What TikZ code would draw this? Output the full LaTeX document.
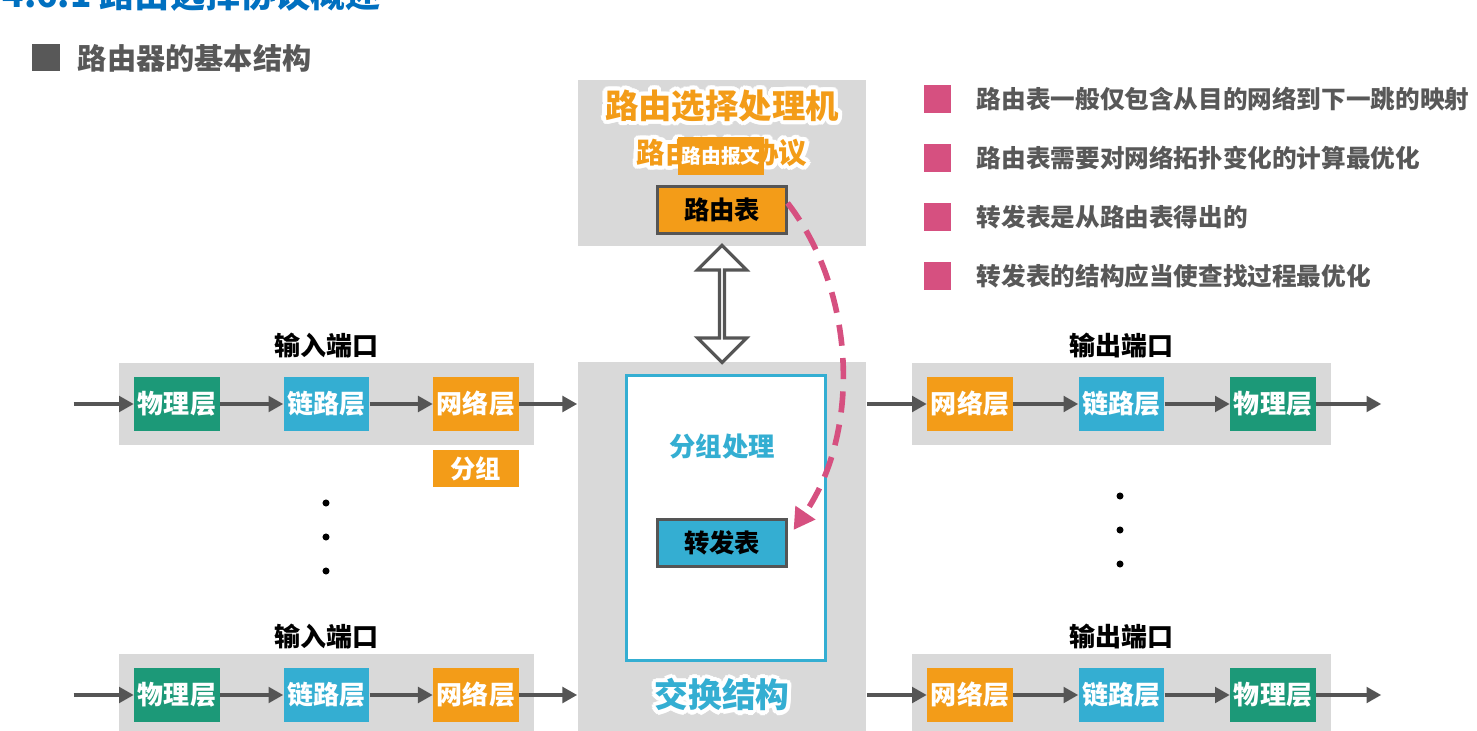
\documentclass[tikz,border=0pt]{standalone}
\usepackage{fontspec}
\setmainfont{Noto Sans CJK SC}
\usepackage{contour}
\contourlength{1.2pt}
\usetikzlibrary{positioning, shapes.arrows, arrows.meta, calc, fit, backgrounds}

\definecolor{boxgray}{RGB}{217,217,217}
\definecolor{phygreen}{RGB}{28,153,120}
\definecolor{linkblue}{RGB}{52,174,210}
\definecolor{netorange}{RGB}{243,156,24}
\definecolor{notepink}{RGB}{214,80,128}
\definecolor{arrowgray}{RGB}{85,85,85}
\definecolor{textgray}{RGB}{88,88,88}
\definecolor{titleblue}{RGB}{0,112,192}

\newcommand{\pxsize}[1]{\fontsize{#1}{#1}\selectfont}

\begin{document}
\begin{tikzpicture}[
  x=0.01cm, y=-0.01cm,
  font=\bfseries,
  node distance=0.63cm,
  layer/.style={
    minimum width=0.85cm, minimum height=0.54cm, inner sep=0pt,
    text=white, font=\bfseries\pxsize{7.4}
  },
  phy/.style={layer, fill=phygreen},
  link/.style={layer, fill=linkblue},
  net/.style={layer, fill=netorange},
  port/.style={fill=boxgray, inner xsep=0.15cm, inner ysep=0.135cm},
  portlabel/.style={inner sep=0pt, font=\bfseries\pxsize{7.4}},
  module/.style={fill=boxgray, minimum width=2.88cm, inner sep=0pt},
  tbl/.style={
    draw=arrowgray, line width=0.85pt, minimum width=1.28cm,
    minimum height=0.47cm, inner sep=0pt, font=\bfseries\pxsize{7.2}
  },
  flow/.style={-{Triangle[length=4.2pt, width=4.4pt]}, line width=1.1pt, draw=arrowgray},
  derive/.style={
    -{Triangle[length=6pt, width=6.5pt]}, draw=notepink,
    line width=1.6pt, dash pattern=on 6pt off 3.5pt
  },
  bullet/.style={fill=notepink, minimum size=0.27cm, inner sep=0pt},
  note/.style={inner sep=0pt, text=textgray, font=\bfseries\pxsize{7.0}},
]

\useasboundingbox (0,0) rectangle (1477,731);

% heading
\node[anchor=base west, inner sep=0pt, text=titleblue, font=\bfseries\pxsize{10}] (title) at (2,8) {4.6.1 路由选择协议概述};
\node[fill=textgray, minimum size=0.27cm, inner sep=0pt] (hsq) at (46,58) {};
\node[inner sep=0pt, text=textgray, font=\bfseries\pxsize{8.3}, right=0.17cm of hsq] (heading) {路由器的基本结构};

% routing processor
\node[module, minimum height=1.66cm] (proc) at (722,163) {};
\node[inner sep=0pt, text=netorange, font=\bfseries\pxsize{9.5}] (procname) at (722,108) {\contour{white}{路由选择处理机}};
\node[inner sep=0pt, text=netorange, font=\bfseries\pxsize{8.1}] (proto) at (722,155) {\contour{white}{路由选择协议}};
\node[fill=netorange, text=white, font=\bfseries\pxsize{5.6}, minimum width=0.86cm, minimum height=0.38cm, inner sep=0pt] (msg) at (721,156) {路由报文};
\node[tbl, fill=netorange] (rt) at (722,210) {路由表};

% switching fabric
\node[module, minimum height=3.74cm] (fabric) at (722,549) {};
\node[draw=linkblue, line width=0.85pt, fill=white, minimum width=1.99cm, minimum height=2.85cm, inner sep=0pt] (pp) at (726,518) {};
\node[inner sep=0pt, text=linkblue, font=\bfseries\pxsize{7.5}] (ppname) at (722,449) {\contour{white}{分组处理}};
\node[tbl, fill=linkblue] (ft) at (722,543) {转发表};
\node[inner sep=0pt, text=linkblue, font=\bfseries\pxsize{9.6}] (fabname) at (722,697) {\contour{white}{交换结构}};

\node[double arrow, draw=arrowgray, fill=white, line width=0.9pt, shape border rotate=90,
  minimum height=1.17cm, minimum width=0.49cm, double arrow head extend=0.14cm,
  inner sep=0pt] (updown) at ($(proc.south)!0.5!(fabric.north)$) {};

\draw[derive] ([yshift=2]rt.east) .. controls (855,290) and (862,430) .. ([shift={(6,12)}]ft.north east);

% input ports
\node[phy] (inphyA) at (177,404) {物理层};
\node[link, right=of inphyA] (inlinkA) {链路层};
\node[net, right=of inlinkA] (innetA) {网络层};
\node[net, below=0.18cm of innetA, minimum height=0.37cm, font=\bfseries\pxsize{7.2}] (pktA) {分组};

\node[phy] (inphyB) at (177,695) {物理层};
\node[link, right=of inphyB] (inlinkB) {链路层};
\node[net, right=of inlinkB] (innetB) {网络层};

% output ports
\node[net] (outnetA) at (970,404) {网络层};
\node[link, right=0.65cm of outnetA] (outlinkA) {链路层};
\node[phy, right=0.65cm of outlinkA] (outphyA) {物理层};

\node[net] (outnetB) at (970,695) {网络层};
\node[link, right=0.65cm of outnetB] (outlinkB) {链路层};
\node[phy, right=0.65cm of outlinkB] (outphyB) {物理层};

\begin{scope}[on background layer]
  \fill[white] (0,0) rectangle (1477,731);
  \node[port, fit=(inphyA)(innetA)] (inA) {};
  \node[port, fit=(inphyB)(innetB)] (inB) {};
  \node[port, fit=(outnetA)(outphyA)] (outA) {};
  \node[port, fit=(outnetB)(outphyB)] (outB) {};
\end{scope}

\node[portlabel, above=0.03cm of inA] (inAname) {输入端口};
\node[portlabel, above=0.03cm of inB] (inBname) {输入端口};
\node[portlabel, above=0.03cm of outA] (outAname) {输出端口};
\node[portlabel, above=0.03cm of outB] (outBname) {输出端口};

\foreach \y in {503,537,571} \fill (326,\y) circle (1pt);
\foreach \y in {496,530,564} \fill (1120,\y) circle (1pt);

% flows through the ports
\coordinate[left=0.6cm of inphyA] (inAsrc);
\draw[flow] (inAsrc) -- (inphyA);
\draw[flow] (inphyA) -- (inlinkA);
\draw[flow] (inlinkA) -- (innetA);
\draw[flow] (innetA) -- (innetA -| fabric.west);

\coordinate[left=0.6cm of inphyB] (inBsrc);
\draw[flow] (inBsrc) -- (inphyB);
\draw[flow] (inphyB) -- (inlinkB);
\draw[flow] (inlinkB) -- (innetB);
\draw[flow] (innetB) -- (innetB -| fabric.west);

\coordinate[right=0.65cm of outphyA] (outAdst);
\draw[flow] (fabric.east |- outnetA) -- (outnetA);
\draw[flow] (outnetA) -- (outlinkA);
\draw[flow] (outlinkA) -- (outphyA);
\draw[flow] (outphyA) -- (outAdst);

\coordinate[right=0.65cm of outphyB] (outBdst);
\draw[flow] (fabric.east |- outnetB) -- (outnetB);
\draw[flow] (outnetB) -- (outlinkB);
\draw[flow] (outlinkB) -- (outphyB);
\draw[flow] (outphyB) -- (outBdst);

% notes
\foreach \txt [count=\i] in {路由表一般仅包含从目的网络到下一跳的映射, 路由表需要对网络拓扑变化的计算最优化, 转发表是从路由表得出的, 转发表的结构应当使查找过程最优化}
{
  \node[bullet] (mark\i) at (937, 40+59*\i) {};
  \node[note, right=0.25cm of mark\i] (note\i) {\txt};
}

\end{tikzpicture}
\end{document}
